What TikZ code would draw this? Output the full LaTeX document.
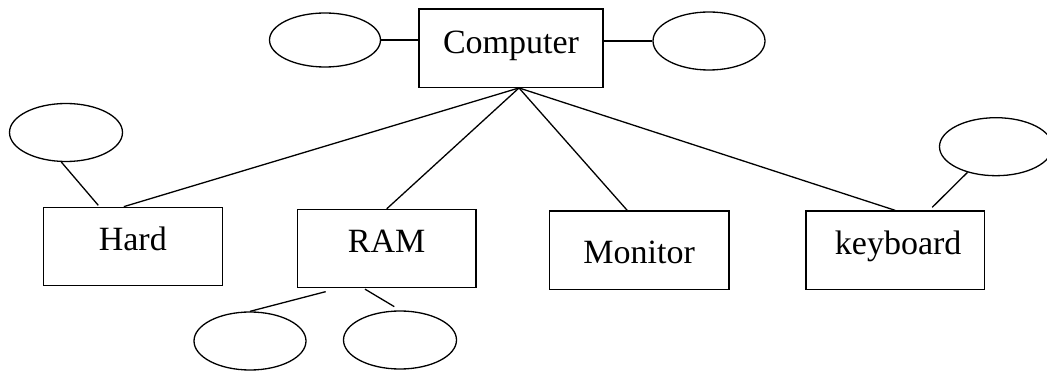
\documentclass[tikz,border=0pt]{standalone}
\usepackage{fontspec}
\setmainfont{Liberation Serif}
\usetikzlibrary{shapes.geometric}
\begin{document}
\begin{tikzpicture}[x=1pt,y=-1pt,
  every path/.style={line width=1.3pt},
  ent/.style={draw, line width=1.3pt, rectangle, inner sep=0pt, anchor=base,
    font=\fontsize{34}{40}\selectfont},
  attr/.style={draw, line width=1.3pt, ellipse, inner sep=0pt}]
\useasboundingbox (0,0) rectangle (1047,371);
% entity boxes
\node[ent, minimum width=184pt, text height=44.3pt, text depth=34pt] (comp) at (511,53.3) {Computer};
\node[ent, minimum width=179pt, text height=43.5pt, text depth=34.9pt] (hard) at (132.8,250.8) {Hard};
\node[ent, minimum width=178.5pt, text height=43.2pt, text depth=34.8pt] (ram) at (386.7,252.7) {RAM};
\node[ent, minimum width=179.7pt, text height=52.3pt, text depth=26pt] (mon) at (639.2,263.3) {Monitor};
\node[ent, minimum width=178.3pt, text height=44pt, text depth=34.3pt] (kb) at (895.2,255) {\hspace{6pt}keyboard};
% attribute ellipses
\node[attr, minimum width=111pt, minimum height=54pt] (cl) at (325,40) {};
\node[attr, minimum width=112pt, minimum height=58pt] (cr) at (709,41) {};
\node[attr, minimum width=113pt, minimum height=58pt] (he) at (66,132.5) {};
\node[attr, minimum width=112pt, minimum height=58pt] (rl) at (250,341) {};
\node[attr, minimum width=113pt, minimum height=58pt] (rr) at (400,340) {};
\node[attr, minimum width=113pt, minimum height=58pt] (ke) at (996,146.7) {};
% hub
\coordinate (hub) at ([xshift=8pt]comp.south);
% connectors
\draw (cl.east) -- (cl.east -| comp.west);
\draw (cr.west -| comp.east) -- (cr.west);
\draw (hub) -- ([xshift=-9pt]hard.north);
\draw (hub) -- (ram.north);
\draw (hub) -- ([xshift=-12pt]mon.north);
\draw (hub) -- (kb.north);
\draw (he.-99) -- ([xshift=-34.5pt,yshift=1.3pt]hard.north);
\draw ([xshift=-61pt,yshift=-3.5pt]ram.south) -- (rl.north);
\draw ([xshift=-21.7pt,yshift=-1pt]ram.south) -- ([xshift=-5.7pt,yshift=3.7pt]rr.north);
\draw (ke.-138) -- ([xshift=37pt,yshift=3pt]kb.north);
\end{tikzpicture}
\end{document}
